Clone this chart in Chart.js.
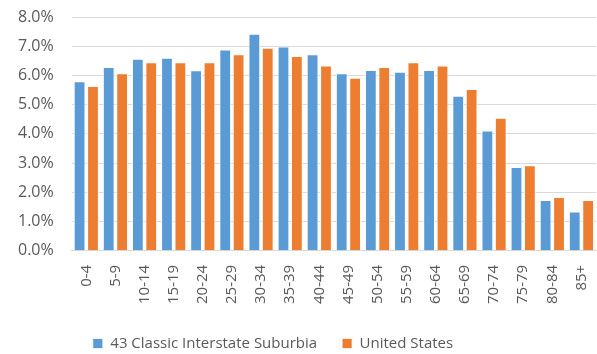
<!DOCTYPE html>
<html>
<head>
<meta charset="utf-8">
<script src="https://cdn.jsdelivr.net/npm/chart.js@4"></script>
<style>
  html, body { margin: 0; padding: 0; background: #fff; }
  #wrap { width: 597px; height: 354px; }
</style>
</head>
<body>
<div id="wrap"><canvas id="chart"></canvas></div>
<script>
// Age groups and shares (%)
const ageGroups = ['0-4', '5-9', '10-14', '15-19', '20-24', '25-29', '30-34', '35-39', '40-44',
    '45-49', '50-54', '55-59', '60-64', '65-69', '70-74', '75-79', '80-84', '85+'];
const suburbia = [5.80, 6.29, 6.57, 6.61, 6.18, 6.89, 7.43, 6.99, 6.73,
    6.08, 6.19, 6.13, 6.19, 5.31, 4.12, 2.87, 1.74, 1.35];
const unitedStates = [5.64, 6.08, 6.45, 6.45, 6.45, 6.73, 6.95, 6.67, 6.34,
    5.92, 6.29, 6.45, 6.34, 5.54, 4.55, 2.93, 1.84, 1.74];
const yTicks = [0, 1, 2, 3, 4, 5, 6, 7, 8];

const font = "'Open Sans', sans-serif";
const textColor = '#595959';

// nudge the legend to where the original one sits
const legendShift = {
    id: 'legendShift',
    afterLayout(chart) {
        const l = chart.legend;
        l.left -= 25; l.right -= 25;
        l.top -= 7; l.bottom -= 7;
    }
};

new Chart(document.getElementById('chart').getContext('2d'), {
    type: 'bar',
    data: {
        labels: ageGroups,
        datasets: [
            {
                label: '43 Classic Interstate Suburbia',
                data: suburbia,
                backgroundColor: '#5B9BD5',
                borderColor: '#ffffff',
                borderWidth: { left: 1, right: 1, top: 1, bottom: 0 }
            },
            {
                label: 'United States',
                data: unitedStates,
                backgroundColor: '#ED7D31',
                borderColor: '#ffffff',
                borderWidth: { left: 1, right: 1, top: 1, bottom: 0 }
            }
        ]
    },
    options: {
        responsive: true,
        maintainAspectRatio: false,
        animation: false,
        categoryPercentage: 0.92,
        barPercentage: 0.88,
        layout: { padding: { left: 0, right: 1, top: 17, bottom: -14 } },
        scales: {
            y: {
                min: 0,
                max: 8,
                afterBuildTicks: axis => { axis.ticks = yTicks.map(v => ({ value: v })); },
                afterFit: axis => { axis.paddingTop = 0; axis.paddingBottom = 0; },
                ticks: {
                    color: textColor,
                    font: { family: font, size: 16 },
                    padding: 18,
                    callback: v => v.toFixed(1) + '%'
                },
                grid: { color: '#D9D9D9', lineWidth: 1, drawTicks: false },
                border: { display: false }
            },
            x: {
                afterFit: axis => { axis.paddingLeft = 0; axis.paddingRight = 0; },
                ticks: {
                    color: textColor,
                    font: { family: font, size: 15 },
                    minRotation: 90,
                    maxRotation: 90,
                    padding: 14
                },
                grid: { display: false, drawTicks: false },
                border: { color: '#D9D9D9' }
            }
        },
        plugins: {
            legend: {
                position: 'bottom',
                labels: {
                    color: textColor,
                    font: { family: font, size: 15 },
                    boxWidth: 10,
                    boxHeight: 10,
                    padding: 25
                }
            },
            tooltip: { enabled: false }
        }
    },
    plugins: [legendShift]
});
</script>
</body>
</html>
